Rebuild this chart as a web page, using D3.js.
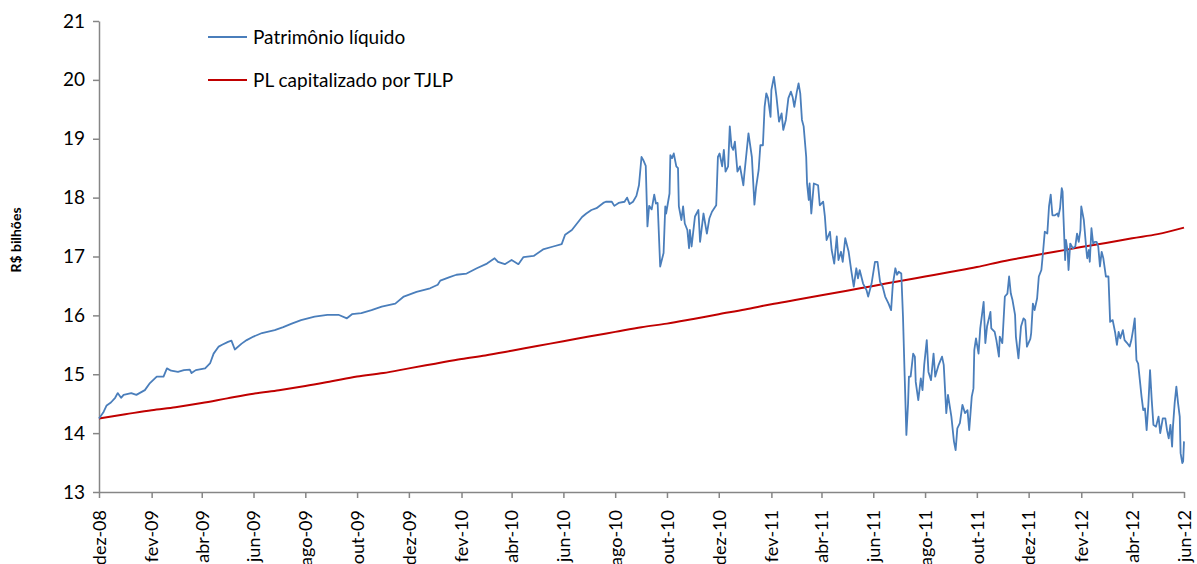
<!DOCTYPE html>
<html>
<head>
<meta charset="utf-8">
<script src="https://cdn.jsdelivr.net/npm/d3@7"></script>
<style>
  html, body { margin: 0; padding: 0; background: #fff; }
  svg { display: block; font-family: Lato, "Open Sans", sans-serif; }
</style>
</head>
<body>
<div id="chart"></div>
<script>
// Patrimônio líquido (R$ bilhões)
const patrimonio = [
  ["2008-12-01",14.25],["2008-12-06",14.35],["2008-12-10",14.47],["2008-12-15",14.52],["2008-12-20",14.60],
  ["2008-12-23",14.68],["2008-12-27",14.60],["2008-12-30",14.65],["2009-01-08",14.68],["2009-01-14",14.65],
  ["2009-01-24",14.73],["2009-01-30",14.85],["2009-02-07",14.96],["2009-02-15",14.96],["2009-02-19",15.10],
  ["2009-02-24",15.06],["2009-03-04",15.04],["2009-03-11",15.07],["2009-03-18",15.08],["2009-03-20",15.02],
  ["2009-03-25",15.07],["2009-04-05",15.10],["2009-04-11",15.19],["2009-04-15",15.35],["2009-04-21",15.47],
  ["2009-04-25",15.50],["2009-05-02",15.55],["2009-05-06",15.57],["2009-05-10",15.42],["2009-05-18",15.52],
  ["2009-05-24",15.58],["2009-06-01",15.64],["2009-06-11",15.70],["2009-06-26",15.75],["2009-07-06",15.80],
  ["2009-07-16",15.86],["2009-07-27",15.92],["2009-08-12",15.98],["2009-08-27",16.01],["2009-09-09",16.01],
  ["2009-09-19",15.95],["2009-09-25",16.02],["2009-10-06",16.04],["2009-10-18",16.09],["2009-10-30",16.15],
  ["2009-11-15",16.20],["2009-11-25",16.32],["2009-12-10",16.40],["2009-12-26",16.46],["2010-01-04",16.52],
  ["2010-01-07",16.59],["2010-01-18",16.65],["2010-01-26",16.69],["2010-02-07",16.71],["2010-02-19",16.80],
  ["2010-03-03",16.88],["2010-03-12",16.97],["2010-03-16",16.91],["2010-03-24",16.87],["2010-04-01",16.94],
  ["2010-04-09",16.87],["2010-04-15",16.99],["2010-04-27",17.01],["2010-05-08",17.12],["2010-05-20",17.17],
  ["2010-05-30",17.21],["2010-06-03",17.37],["2010-06-11",17.45],["2010-06-17",17.56],["2010-06-23",17.67],
  ["2010-06-28",17.73],["2010-07-04",17.79],["2010-07-10",17.82],["2010-07-18",17.91],["2010-07-21",17.93],
  ["2010-07-28",17.93],["2010-07-31",17.86],["2010-08-05",17.91],["2010-08-12",17.93],["2010-08-15",18.00],
  ["2010-08-18",17.89],["2010-08-22",17.93],["2010-08-26",18.03],["2010-08-29",18.21],["2010-09-01",18.69],
  ["2010-09-03",18.64],["2010-09-06",18.54],["2010-09-08",17.51],["2010-09-10",17.86],["2010-09-13",17.80],
  ["2010-09-16",18.05],["2010-09-18",17.90],["2010-09-20",17.91],["2010-09-23",16.83],["2010-09-27",17.06],
  ["2010-09-29",17.85],["2010-09-30",17.73],["2010-10-04",18.07],["2010-10-05",18.72],["2010-10-07",18.67],
  ["2010-10-09",18.75],["2010-10-12",18.53],["2010-10-14",18.50],["2010-10-15",17.85],["2010-10-18",17.62],
  ["2010-10-20",17.85],["2010-10-22",17.56],["2010-10-25",17.45],["2010-10-27",17.14],["2010-10-28",17.45],
  ["2010-10-30",17.17],["2010-11-03",17.68],["2010-11-07",17.79],["2010-11-09",17.25],["2010-11-13",17.73],
  ["2010-11-17",17.39],["2010-11-20",17.65],["2010-11-23",17.76],["2010-11-28",17.87],["2010-11-30",18.69],
  ["2010-12-02",18.75],["2010-12-05",18.53],["2010-12-07",18.81],["2010-12-09",18.44],["2010-12-12",18.53],
  ["2010-12-14",19.21],["2010-12-16",18.87],["2010-12-18",18.81],["2010-12-20",18.95],["2010-12-23",18.44],
  ["2010-12-26",18.53],["2010-12-30",18.21],["2010-12-31",18.38],["2011-01-05",19.09],["2011-01-09",18.69],
  ["2011-01-12",17.88],["2011-01-14",18.18],["2011-01-17",18.47],["2011-01-19",18.89],["2011-01-22",18.89],
  ["2011-01-24",19.54],["2011-01-26",19.77],["2011-01-28",19.69],["2011-01-31",19.37],["2011-02-01",19.83],
  ["2011-02-04",20.05],["2011-02-07",19.71],["2011-02-10",19.29],["2011-02-13",19.43],["2011-02-15",19.15],
  ["2011-02-18",19.32],["2011-02-21",19.69],["2011-02-24",19.80],["2011-02-26",19.71],["2011-02-28",19.54],
  ["2011-03-03",19.80],["2011-03-05",19.94],["2011-03-07",19.77],["2011-03-09",19.32],["2011-03-11",19.21],
  ["2011-03-14",18.69],["2011-03-15",18.24],["2011-03-17",17.96],["2011-03-18",18.24],["2011-03-20",17.73],
  ["2011-03-23",18.24],["2011-03-28",18.21],["2011-03-30",17.87],["2011-04-03",17.93],["2011-04-05",17.68],
  ["2011-04-07",17.28],["2011-04-11",17.42],["2011-04-13",17.11],["2011-04-16",16.88],["2011-04-19",17.34],
  ["2011-04-21",16.94],["2011-04-24",17.08],["2011-04-26",16.91],["2011-04-29",17.31],["2011-05-03",17.08],
  ["2011-05-06",16.77],["2011-05-09",16.49],["2011-05-12",16.80],["2011-05-14",16.63],["2011-05-16",16.77],
  ["2011-05-20",16.54],["2011-05-24",16.43],["2011-05-26",16.32],["2011-05-30",16.54],["2011-06-03",16.91],
  ["2011-06-06",16.91],["2011-06-09",16.57],["2011-06-12",16.49],["2011-06-15",16.32],["2011-06-19",16.20],
  ["2011-06-22",16.09],["2011-06-24",16.52],["2011-06-27",16.80],["2011-06-29",16.69],["2011-07-01",16.74],
  ["2011-07-04",16.71],["2011-07-06",15.98],["2011-07-08",14.96],["2011-07-10",13.97],["2011-07-12",14.51],
  ["2011-07-13",14.96],["2011-07-15",14.96],["2011-07-18",15.35],["2011-07-20",15.30],["2011-07-21",14.87],
  ["2011-07-24",14.56],["2011-07-27",14.93],["2011-07-29",14.73],["2011-07-31",15.16],["2011-08-03",15.58],
  ["2011-08-05",15.04],["2011-08-08",14.90],["2011-08-11",15.35],["2011-08-13",14.96],["2011-08-17",15.16],
  ["2011-08-21",15.30],["2011-08-23",15.16],["2011-08-26",14.34],["2011-08-28",14.65],["2011-09-01",14.28],
  ["2011-09-04",13.86],["2011-09-06",13.71],["2011-09-08",14.08],["2011-09-11",14.17],["2011-09-14",14.48],
  ["2011-09-17",14.34],["2011-09-20",14.39],["2011-09-22",14.05],["2011-09-25",14.62],["2011-09-27",14.76],
  ["2011-09-28",15.41],["2011-09-30",15.61],["2011-10-03",15.35],["2011-10-05",15.78],["2011-10-09",16.23],
  ["2011-10-11",15.53],["2011-10-13",15.81],["2011-10-17",16.06],["2011-10-18",15.78],["2011-10-22",15.72],
  ["2011-10-24",15.58],["2011-10-27",15.30],["2011-10-28",15.64],["2011-10-31",15.53],["2011-11-03",16.32],
  ["2011-11-06",16.37],["2011-11-08",16.66],["2011-11-10",16.37],["2011-11-12",16.26],["2011-11-15",16.01],
  ["2011-11-16",15.64],["2011-11-19",15.27],["2011-11-22",15.81],["2011-11-25",15.95],["2011-11-27",15.92],
  ["2011-11-29",15.47],["2011-12-03",15.60],["2011-12-04",15.70],["2011-12-06",16.20],["2011-12-08",16.09],
  ["2011-12-11",16.29],["2011-12-13",16.66],["2011-12-16",16.77],["2011-12-18",17.08],["2011-12-20",17.42],
  ["2011-12-23",17.39],["2011-12-25",17.85],["2011-12-27",18.05],["2011-12-29",17.70],["2012-01-01",17.70],
  ["2012-01-04",17.73],["2012-01-05",17.68],["2012-01-07",17.82],["2012-01-09",18.16],["2012-01-10",18.10],
  ["2012-01-11",17.68],["2012-01-13",16.94],["2012-01-14",17.28],["2012-01-16",17.08],["2012-01-17",16.77],
  ["2012-01-19",17.22],["2012-01-22",17.14],["2012-01-25",17.17],["2012-01-27",17.39],["2012-01-29",17.25],
  ["2012-01-31",17.45],["2012-02-01",17.85],["2012-02-04",17.62],["2012-02-07",17.11],["2012-02-08",16.97],
  ["2012-02-10",17.11],["2012-02-11",16.91],["2012-02-13",17.48],["2012-02-15",17.22],["2012-02-17",17.25],
  ["2012-02-19",17.25],["2012-02-21",17.17],["2012-02-23",16.83],["2012-02-25",17.08],["2012-02-27",16.97],
  ["2012-03-01",16.66],["2012-03-04",16.66],["2012-03-06",15.89],["2012-03-09",15.92],["2012-03-12",15.70],
  ["2012-03-14",15.50],["2012-03-16",15.72],["2012-03-18",15.61],["2012-03-21",15.75],["2012-03-23",15.58],
  ["2012-03-26",15.53],["2012-03-29",15.47],["2012-03-31",15.58],["2012-04-02",15.75],["2012-04-04",15.95],
  ["2012-04-06",15.24],["2012-04-08",15.18],["2012-04-10",14.90],["2012-04-12",14.62],["2012-04-14",14.39],
  ["2012-04-16",14.42],["2012-04-18",14.05],["2012-04-20",14.48],["2012-04-22",15.07],["2012-04-24",14.56],
  ["2012-04-26",14.14],["2012-04-29",14.11],["2012-05-02",14.28],["2012-05-04",14.00],["2012-05-07",14.25],
  ["2012-05-10",14.25],["2012-05-12",14.05],["2012-05-14",13.91],["2012-05-16",14.14],["2012-05-18",13.77],
  ["2012-05-19",14.11],["2012-05-21",14.51],["2012-05-23",14.79],["2012-05-25",14.51],["2012-05-27",14.28],
  ["2012-05-28",13.66],["2012-05-30",13.49],["2012-05-31",13.52],["2012-06-01",13.86]
];

// PL capitalizado por TJLP, one value per month
const tjlp = [
  ["2008-12-01",14.25],["2009-01-01",14.32],["2009-02-01",14.39],["2009-03-01",14.44],["2009-04-01",14.51],
  ["2009-05-01",14.59],["2009-06-01",14.67],["2009-07-01",14.73],["2009-08-01",14.80],["2009-09-01",14.88],
  ["2009-10-01",14.96],["2009-11-01",15.02],["2009-12-01",15.10],["2010-01-01",15.18],["2010-02-01",15.26],
  ["2010-03-01",15.32],["2010-04-01",15.40],["2010-05-01",15.48],["2010-06-01",15.56],["2010-07-01",15.64],
  ["2010-08-01",15.72],["2010-09-01",15.80],["2010-10-01",15.86],["2010-11-01",15.94],["2010-12-01",16.02],
  ["2011-01-01",16.10],["2011-02-01",16.19],["2011-03-01",16.26],["2011-04-01",16.34],["2011-05-01",16.42],
  ["2011-06-01",16.50],["2011-07-01",16.58],["2011-08-01",16.66],["2011-09-01",16.74],["2011-10-01",16.82],
  ["2011-11-01",16.92],["2011-12-01",17.00],["2012-01-01",17.08],["2012-02-01",17.16],["2012-03-01",17.23],
  ["2012-04-01",17.31],["2012-05-01",17.38],["2012-06-01",17.49]
];

const monthNames = ["jan","fev","mar","abr","mai","jun","jul","ago","set","out","nov","dez"];
const yTicks = [13, 14, 15, 16, 17, 18, 19, 20, 21];
const seriesNames = ["Patrimônio líquido", "PL capitalizado por TJLP"];
const seriesColors = ["#4a7ebb", "#c00000"];

const width = 1197, height = 564;
const margin = { top: 21, right: 13, bottom: 72, left: 99 };

const parse = d3.utcParse("%Y-%m-%d");
const pl = patrimonio.map(([d, v]) => ({ date: parse(d), value: v }));
const cap = tjlp.map(([d, v]) => ({ date: parse(d), value: v }));

const x0 = parse("2008-12-01"), x1 = parse("2012-06-01");
const x = d3.scaleUtc()
  .domain([x0, x1])
  .range([margin.left, width - margin.right]);

const y = d3.scaleLinear()
  .domain([13, 21])
  .range([height - margin.bottom, margin.top]);

const svg = d3.select("#chart").append("svg")
  .attr("width", width)
  .attr("height", height);

const axisColor = "#868686";

// x axis: every 2 months starting at dez-08
const xTickValues = d3.utcMonth.range(x0, d3.utcDay.offset(x1, 1), 2);
svg.append("g")
  .attr("transform", `translate(0,${height - margin.bottom})`)
  .call(d3.axisBottom(x)
    .tickValues(xTickValues)
    .tickSize(6)
    .tickSizeOuter(0)
    .tickFormat(d => `${monthNames[d.getUTCMonth()]}-${String(d.getUTCFullYear()).slice(2)}`))
  .call(g => g.select(".domain").attr("stroke", axisColor).attr("stroke-width", 1.5))
  .call(g => g.selectAll(".tick line").attr("stroke", axisColor).attr("stroke-width", 1.5))
  .call(g => g.selectAll(".tick text")
    .attr("transform", "rotate(-90)")
    .attr("x", -18).attr("y", 0).attr("dy", "0.35em")
    .attr("text-anchor", "end")
    .attr("fill", "#000")
    .style("font-size", "18px")
    .style("font-family", "Lato, sans-serif"));

// y axis
svg.append("g")
  .attr("transform", `translate(${margin.left},0)`)
  .call(d3.axisLeft(y).tickValues(yTicks).tickSize(6).tickPadding(8).tickSizeOuter(0))
  .call(g => g.select(".domain").attr("stroke", axisColor).attr("stroke-width", 1.5))
  .call(g => g.selectAll(".tick line").attr("stroke", axisColor).attr("stroke-width", 1.5))
  .call(g => g.selectAll(".tick text")
    .attr("fill", "#000")
    .style("font-size", "19px")
    .style("font-family", "Lato, sans-serif"));

// y title
svg.append("text")
  .attr("transform", `translate(21,240) rotate(-90)`)
  .attr("text-anchor", "middle")
  .style("font-size", "14px")
  .style("font-weight", "bold")
  .text("R$ bilhões");

const line = d3.line()
  .x(d => x(d.date))
  .y(d => y(d.value));

svg.append("path")
  .datum(cap)
  .attr("fill", "none")
  .attr("stroke", seriesColors[1])
  .attr("stroke-width", 2)
  .attr("d", line.curve(d3.curveMonotoneX));

svg.append("path")
  .datum(pl)
  .attr("fill", "none")
  .attr("stroke", seriesColors[0])
  .attr("stroke-width", 1.8)
  .attr("stroke-linejoin", "round")
  .attr("d", line.curve(d3.curveLinear));

// legend
const legend = svg.append("g")
  .selectAll("g")
  .data(seriesNames)
  .join("g")
    .attr("transform", (d, i) => `translate(208,${37 + i * 43})`);

legend.append("line")
  .attr("x1", 0).attr("x2", 39)
  .attr("stroke", (d, i) => seriesColors[i])
  .attr("stroke-width", 2);

legend.append("text")
  .attr("x", 45)
  .attr("dy", "0.35em")
  .style("font-size", "19px")
  .text(d => d);
</script>
</body>
</html>
